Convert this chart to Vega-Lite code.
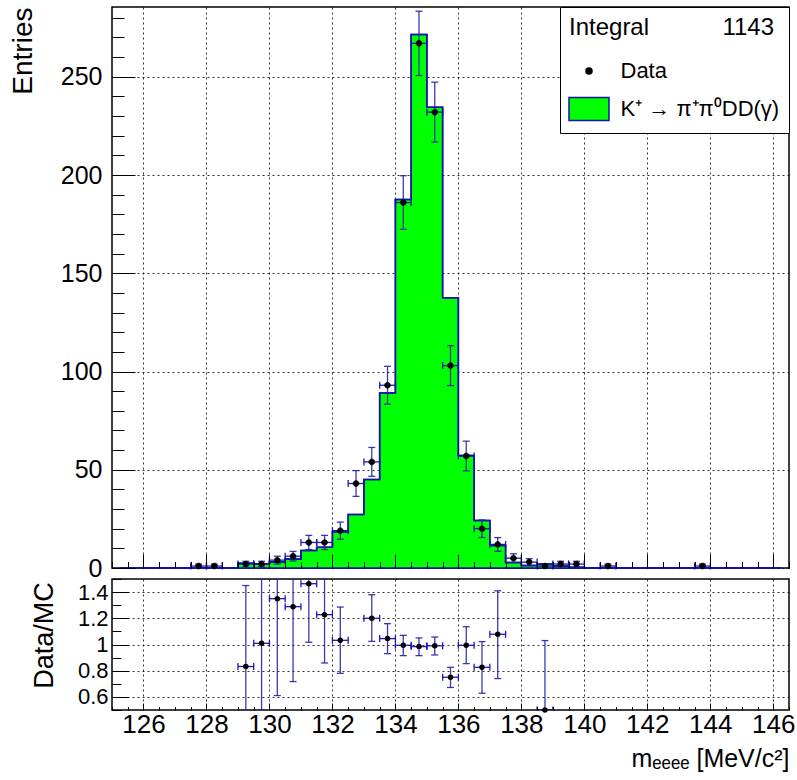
{
  "$schema": "https://vega.github.io/schema/vega-lite/v6.json",
  "padding": {"left": 8, "top": 5, "right": 5, "bottom": 5},
  "background": "white",
  "spacing": 11,
  "bounds": "flush",
  "config": {
    "font": "Liberation Sans",
    "view": {"stroke": "black", "strokeWidth": 1.5},
    "axis": {"labelFont": "Liberation Sans", "titleFont": "Liberation Sans", "labelColor": "black", "titleColor": "black", "titleFontWeight": "normal", "tickColor": "black", "tickWidth": 1, "gridColor": "black", "gridDash": [2, 3], "gridOpacity": 0.8, "gridWidth": 1},
    "legend": {
      "orient": "top-right", "offset": 0, "padding": 9,
      "strokeColor": "black", "fillColor": "white",
      "titleFont": "Liberation Sans", "titleFontSize": 24, "titleFontWeight": "normal", "titleColor": "black", "titlePadding": 18, "titleLimit": 400,
      "labelFont": "Liberation Sans", "labelFontSize": 22, "labelColor": "black", "labelOffset": 18.5, "labelLimit": 400,
      "symbolSize": 576, "symbolStrokeWidth": 1.5, "symbolOffset": 7, "symbolOpacity": 1, "rowPadding": 12
    }
  },
  "resolve": {
    "scale": {"color": "independent", "stroke": "independent", "shape": "independent"},
    "legend": {"color": "independent", "stroke": "independent", "shape": "independent"}
  },
  "datasets": {
    "mc": [
      {"c": 125.25, "mc": 0}, {"c": 125.75, "mc": 0}, {"c": 126.25, "mc": 0}, {"c": 126.75, "mc": 0},
      {"c": 127.25, "mc": 0}, {"c": 127.75, "mc": 0}, {"c": 128.25, "mc": 0}, {"c": 128.75, "mc": 0},
      {"c": 129.25, "mc": 2.4}, {"c": 129.75, "mc": 2.0}, {"c": 130.25, "mc": 3.0}, {"c": 130.75, "mc": 4.6},
      {"c": 131.25, "mc": 8.9}, {"c": 131.75, "mc": 10.6}, {"c": 132.25, "mc": 18.4}, {"c": 132.75, "mc": 27.2},
      {"c": 133.25, "mc": 45}, {"c": 133.75, "mc": 89}, {"c": 134.25, "mc": 187.5}, {"c": 134.75, "mc": 271.5},
      {"c": 135.25, "mc": 234.5}, {"c": 135.75, "mc": 137.5}, {"c": 136.25, "mc": 57.3}, {"c": 136.75, "mc": 24.2},
      {"c": 137.25, "mc": 11.4}, {"c": 137.75, "mc": 2.8}, {"c": 138.25, "mc": 1.3}, {"c": 138.75, "mc": 2.0},
      {"c": 139.25, "mc": 1.0}, {"c": 139.75, "mc": 0.4}, {"c": 140.25, "mc": 0}, {"c": 140.75, "mc": 0},
      {"c": 141.25, "mc": 0}, {"c": 141.75, "mc": 0}, {"c": 142.25, "mc": 0}, {"c": 142.75, "mc": 0},
      {"c": 143.25, "mc": 0}, {"c": 143.75, "mc": 0}, {"c": 144.25, "mc": 0}, {"c": 144.75, "mc": 0},
      {"c": 145.25, "mc": 0}, {"c": 145.75, "mc": 0}, {"c": 146.25, "mc": 0}
    ],
    "pts": [
      {"c": 127.75, "lo": 127.5, "hi": 128.0, "n": 1, "nlo": 0, "nhi": 2},
      {"c": 128.25, "lo": 128.0, "hi": 128.5, "n": 1, "nlo": 0, "nhi": 2},
      {"c": 129.25, "lo": 129.0, "hi": 129.5, "n": 2, "nlo": 0.586, "nhi": 3.414},
      {"c": 129.75, "lo": 129.5, "hi": 130.0, "n": 2, "nlo": 0.586, "nhi": 3.414},
      {"c": 130.25, "lo": 130.0, "hi": 130.5, "n": 4, "nlo": 2, "nhi": 6},
      {"c": 130.75, "lo": 130.5, "hi": 131.0, "n": 6, "nlo": 3.551, "nhi": 8.449},
      {"c": 131.25, "lo": 131.0, "hi": 131.5, "n": 13, "nlo": 9.394, "nhi": 16.606},
      {"c": 131.75, "lo": 131.5, "hi": 132.0, "n": 13, "nlo": 9.394, "nhi": 16.606},
      {"c": 132.25, "lo": 132.0, "hi": 132.5, "n": 19, "nlo": 14.641, "nhi": 23.359},
      {"c": 132.75, "lo": 132.5, "hi": 133.0, "n": 43, "nlo": 36.443, "nhi": 49.557},
      {"c": 133.25, "lo": 133.0, "hi": 133.5, "n": 54, "nlo": 46.652, "nhi": 61.348},
      {"c": 133.75, "lo": 133.5, "hi": 134.0, "n": 93, "nlo": 83.356, "nhi": 102.644},
      {"c": 134.25, "lo": 134.0, "hi": 134.5, "n": 186, "nlo": 172.362, "nhi": 199.638},
      {"c": 134.75, "lo": 134.5, "hi": 135.0, "n": 267, "nlo": 250.66, "nhi": 283.34},
      {"c": 135.25, "lo": 135.0, "hi": 135.5, "n": 232, "nlo": 216.768, "nhi": 247.232},
      {"c": 135.75, "lo": 135.5, "hi": 136.0, "n": 103, "nlo": 92.851, "nhi": 113.149},
      {"c": 136.25, "lo": 136.0, "hi": 136.5, "n": 57, "nlo": 49.45, "nhi": 64.55},
      {"c": 136.75, "lo": 136.5, "hi": 137.0, "n": 20, "nlo": 15.528, "nhi": 24.472},
      {"c": 137.25, "lo": 137.0, "hi": 137.5, "n": 12, "nlo": 8.536, "nhi": 15.464},
      {"c": 137.75, "lo": 137.5, "hi": 138.0, "n": 5, "nlo": 2.764, "nhi": 7.236},
      {"c": 138.25, "lo": 138.0, "hi": 138.5, "n": 3, "nlo": 1.268, "nhi": 4.732},
      {"c": 138.75, "lo": 138.5, "hi": 139.0, "n": 1, "nlo": 0, "nhi": 2},
      {"c": 139.25, "lo": 139.0, "hi": 139.5, "n": 2, "nlo": 0.586, "nhi": 3.414},
      {"c": 139.75, "lo": 139.5, "hi": 140.0, "n": 2, "nlo": 0.586, "nhi": 3.414},
      {"c": 140.75, "lo": 140.5, "hi": 141.0, "n": 1, "nlo": 0, "nhi": 2},
      {"c": 143.75, "lo": 143.5, "hi": 144.0, "n": 1, "nlo": 0, "nhi": 2}
    ],
    "ratio": [
      {"c": 129.25, "lo": 129.0, "hi": 129.5, "r": 0.832, "rlo": 0.24, "rhi": 1.45},
      {"c": 129.75, "lo": 129.5, "hi": 130.0, "r": 1.009, "rlo": 0.3, "rhi": 1.72},
      {"c": 130.25, "lo": 130.0, "hi": 130.5, "r": 1.35, "rlo": 0.61, "rhi": 2.09},
      {"c": 130.75, "lo": 130.5, "hi": 131.0, "r": 1.289, "rlo": 0.717, "rhi": 1.86},
      {"c": 131.25, "lo": 131.0, "hi": 131.5, "r": 1.464, "rlo": 1.017, "rhi": 1.91},
      {"c": 131.75, "lo": 131.5, "hi": 132.0, "r": 1.228, "rlo": 0.859, "rhi": 1.6},
      {"c": 132.25, "lo": 132.0, "hi": 132.5, "r": 1.032, "rlo": 0.78, "rhi": 1.286},
      {"c": 133.25, "lo": 133.0, "hi": 133.5, "r": 1.2, "rlo": 1.024, "rhi": 1.38},
      {"c": 133.75, "lo": 133.5, "hi": 134.0, "r": 1.045, "rlo": 0.93, "rhi": 1.159},
      {"c": 134.25, "lo": 134.0, "hi": 134.5, "r": 0.994, "rlo": 0.915, "rhi": 1.07},
      {"c": 134.75, "lo": 134.5, "hi": 135.0, "r": 0.984, "rlo": 0.915, "rhi": 1.05},
      {"c": 135.25, "lo": 135.0, "hi": 135.5, "r": 0.99, "rlo": 0.92, "rhi": 1.057},
      {"c": 135.75, "lo": 135.5, "hi": 136.0, "r": 0.75, "rlo": 0.672, "rhi": 0.826},
      {"c": 136.25, "lo": 136.0, "hi": 136.5, "r": 0.994, "rlo": 0.854, "rhi": 1.136},
      {"c": 136.75, "lo": 136.5, "hi": 137.0, "r": 0.826, "rlo": 0.628, "rhi": 1.022},
      {"c": 137.25, "lo": 137.0, "hi": 137.5, "r": 1.078, "rlo": 0.74, "rhi": 1.41},
      {"c": 138.75, "lo": 138.5, "hi": 139.0, "r": 0.5, "rlo": 0.0, "rhi": 1.03}
    ]
  },
  "vconcat": [
    {
      "width": 677,
      "height": 561,
      "resolve": {"axis": {"x": "independent", "y": "independent"}},
      "layer": [
        {
          "data": {"name": "mc"},
          "mark": {"type": "area", "interpolate": "step", "opacity": 1, "fill": "#00ff00", "stroke": "#1010b0", "strokeWidth": 1.5},
          "encoding": {
            "x": {"field": "c", "type": "quantitative", "scale": {"domain": [125, 146.5], "nice": false, "zero": false},
              "axis": {"orient": "bottom", "values": [126, 128, 130, 132, 134, 136, 138, 140, 142, 144, 146], "labels": false, "ticks": false, "domain": false, "grid": true, "title": null, "zindex": 0}},
            "y": {"field": "mc", "type": "quantitative", "scale": {"domain": [0, 285.5], "nice": false},
              "axis": {"orient": "left", "values": [0, 50, 100, 150, 200, 250], "labelFontSize": 25, "labelPadding": 10, "ticks": false, "domain": false, "grid": true, "title": "Entries", "titleFontSize": 28, "titleAnchor": "end", "titleAlign": "right", "titleBaseline": "top", "titleX": -103, "titleY": 0, "zindex": 0}}
          }
        },
        {
          "data": {"name": "mc"},
          "mark": {"type": "line", "interpolate": "step", "color": "#1010b0", "strokeWidth": 1.5},
          "encoding": {
            "x": {"field": "c", "type": "quantitative",
              "axis": {"orient": "bottom", "values": [126, 128, 130, 132, 134, 136, 138, 140, 142, 144, 146], "labels": false, "ticks": true, "tickSize": 14, "offset": -14, "domain": false, "grid": false, "title": null, "zindex": 1}},
            "y": {"field": "mc", "type": "quantitative",
              "axis": {"orient": "left", "values": [0, 50, 100, 150, 200, 250], "labels": false, "ticks": true, "tickSize": 23, "offset": -23, "domain": false, "grid": false, "title": null, "zindex": 1}}
          }
        },
        {
          "data": {"name": "pts"},
          "mark": {"type": "errorbar", "ticks": true, "size": 7, "thickness": 1.3, "color": "#2525a8", "opacity": 0.9},
          "encoding": {
            "x": {"field": "c", "type": "quantitative", "axis": null},
            "y": {"field": "nlo", "type": "quantitative", "axis": null},
            "y2": {"field": "nhi"}
          }
        },
        {
          "data": {"name": "pts"},
          "mark": {"type": "errorbar", "ticks": true, "size": 7, "thickness": 1.3, "color": "#1010b0", "opacity": 0.95},
          "encoding": {
            "x": {"field": "lo", "type": "quantitative", "axis": null},
            "x2": {"field": "hi"},
            "y": {"field": "n", "type": "quantitative", "axis": null}
          }
        },
        {
          "data": {"name": "pts"},
          "mark": {"type": "point", "filled": true, "size": 576, "opacity": 1, "strokeWidth": 0.5},
          "encoding": {
            "x": {"field": "c", "type": "quantitative",
              "axis": {"orient": "bottom", "values": [125, 125.5, 126, 126.5, 127, 127.5, 128, 128.5, 129, 129.5, 130, 130.5, 131, 131.5, 132, 132.5, 133, 133.5, 134, 134.5, 135, 135.5, 136, 136.5, 137, 137.5, 138, 138.5, 139, 139.5, 140, 140.5, 141, 141.5, 142, 142.5, 143, 143.5, 144, 144.5, 145, 145.5, 146, 146.5], "labels": false, "ticks": true, "tickSize": 6.5, "offset": -6.5, "domain": false, "grid": false, "title": null, "zindex": 1}},
            "y": {"field": "n", "type": "quantitative",
              "axis": {"orient": "left", "values": [0, 10, 20, 30, 40, 50, 60, 70, 80, 90, 100, 110, 120, 130, 140, 150, 160, 170, 180, 190, 200, 210, 220, 230, 240, 250, 260, 270, 280], "labels": false, "ticks": true, "tickSize": 12, "offset": -12, "domain": false, "grid": false, "title": null, "zindex": 1}},
            "color": {"datum": "Data", "type": "nominal",
              "scale": {"domain": ["Data", "K⁺ → π⁺π⁰DD(γ)"], "range": ["black", "#00ff00"]},
              "legend": {"title": "Integral\u00a0\u00a0\u00a0\u00a0\u00a0\u00a0\u00a0\u00a0\u00a0\u00a0\u00a01143"}},
            "stroke": {"datum": "Data", "type": "nominal",
              "scale": {"domain": ["Data", "K⁺ → π⁺π⁰DD(γ)"], "range": ["black", "#1010b0"]},
              "legend": {"title": "Integral\u00a0\u00a0\u00a0\u00a0\u00a0\u00a0\u00a0\u00a0\u00a0\u00a0\u00a01143"}},
            "shape": {"datum": "Data", "type": "nominal",
              "scale": {"domain": ["Data", "K⁺ → π⁺π⁰DD(γ)"], "range": ["M-0.25,0A0.25,0.25 0 1,0 0.25,0A0.25,0.25 0 1,0 -0.25,0Z", "M-1.667,-0.96H1.667V0.96H-1.667Z"]},
              "legend": {"title": "Integral\u00a0\u00a0\u00a0\u00a0\u00a0\u00a0\u00a0\u00a0\u00a0\u00a0\u00a01143"}}
          }
        }
      ]
    },
    {
      "width": 677,
      "height": 131,
      "data": {"name": "ratio"},
      "resolve": {"axis": {"x": "independent", "y": "independent"}},
      "layer": [
        {
          "mark": {"type": "errorbar", "ticks": true, "size": 7, "thickness": 1.3, "color": "#2525a8", "opacity": 0.9, "clip": true},
          "encoding": {
            "x": {"field": "c", "type": "quantitative", "scale": {"domain": [125, 146.5], "nice": false, "zero": false},
              "axis": {"orient": "bottom", "values": [126, 128, 130, 132, 134, 136, 138, 140, 142, 144, 146], "labels": false, "ticks": true, "tickSize": 7, "offset": -7, "domain": false, "grid": false, "title": null, "zindex": 1}},
            "y": {"field": "rlo", "type": "quantitative", "scale": {"domain": [0.5, 1.5], "nice": false, "zero": false, "clamp": true},
              "axis": {"orient": "left", "values": [0.6, 0.8, 1, 1.2, 1.4], "labels": false, "ticks": true, "tickSize": 17, "offset": -17, "domain": false, "grid": false, "title": null, "zindex": 1}},
            "y2": {"field": "rhi"}
          }
        },
        {
          "mark": {"type": "errorbar", "ticks": true, "size": 7, "thickness": 1.3, "color": "#1010b0", "opacity": 0.95, "clip": true},
          "encoding": {
            "x": {"field": "lo", "type": "quantitative",
              "axis": {"orient": "bottom", "values": [125, 125.5, 126, 126.5, 127, 127.5, 128, 128.5, 129, 129.5, 130, 130.5, 131, 131.5, 132, 132.5, 133, 133.5, 134, 134.5, 135, 135.5, 136, 136.5, 137, 137.5, 138, 138.5, 139, 139.5, 140, 140.5, 141, 141.5, 142, 142.5, 143, 143.5, 144, 144.5, 145, 145.5, 146, 146.5], "labels": false, "ticks": true, "tickSize": 3.5, "offset": -3.5, "domain": false, "grid": false, "title": null, "zindex": 1}},
            "x2": {"field": "hi"},
            "y": {"field": "r", "type": "quantitative",
              "axis": {"orient": "left", "values": [0.5, 0.6, 0.7, 0.8, 0.9, 1, 1.1, 1.2, 1.3, 1.4, 1.5], "labels": false, "ticks": true, "tickSize": 9, "offset": -9, "domain": false, "grid": false, "title": null, "zindex": 1}}
          }
        },
        {
          "mark": {"type": "circle", "size": 30, "color": "black", "opacity": 1},
          "encoding": {
            "x": {"field": "c", "type": "quantitative",
              "axis": {"orient": "bottom", "values": [126, 128, 130, 132, 134, 136, 138, 140, 142, 144, 146], "labelFontSize": 26, "labelPadding": 1, "ticks": false, "domain": false, "grid": true, "zindex": 0, "title": "mₑₑₑₑ [MeV/c²]", "titleFontSize": 25, "titleAnchor": "end", "titlePadding": 9}},
            "y": {"field": "r", "type": "quantitative",
              "axis": {"orient": "left", "values": [0.6, 0.8, 1, 1.2, 1.4], "format": "~g", "labelFontSize": 22, "labelPadding": 4, "ticks": false, "domain": false, "grid": true, "zindex": 0, "title": "Data/MC", "titleFontSize": 27, "titleBaseline": "top", "titleX": -81, "titleY": 56}}
          }
        }
      ]
    }
  ]
}
